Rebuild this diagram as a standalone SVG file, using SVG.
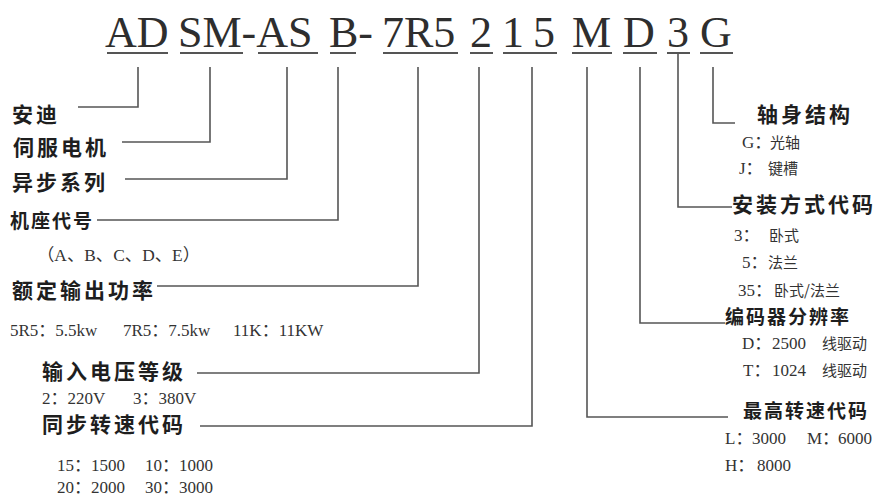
<svg xmlns="http://www.w3.org/2000/svg" width="878" height="499" viewBox="0 0 878 499">
<style>
.code{font-family:"Liberation Serif","Times New Roman",serif;font-size:44px;fill:#2e2e2e}
.ul{stroke:#555;stroke-width:2;fill:none}
.lbl{font-family:"Noto Sans CJK SC","Noto Sans",sans-serif;font-weight:bold;font-size:21px;fill:#1e1e1e;letter-spacing:3px}
.lbs{font-family:"Noto Sans CJK SC","Noto Sans",sans-serif;font-weight:bold;font-size:19px;fill:#1e1e1e;letter-spacing:2px}
.sm{font-family:"Liberation Serif","Noto Sans CJK SC",serif;font-size:17px;fill:#333}
.cj{font-family:"Noto Sans CJK SC",sans-serif;font-size:15px;fill:#333}
.conn path{stroke:#555;stroke-width:1.6;fill:none}
</style>
<rect width="878" height="499" fill="#fff"/>
<g id="code">
<g id="seg-AD"><text class="code" x="105" y="47">AD</text><line class="ul" x1="107" y1="53" x2="168" y2="53"/></g>
<g id="seg-SMAS"><text class="code" x="178" y="47">SM-AS</text><line class="ul" x1="180" y1="53" x2="243" y2="53"/><line class="ul" x1="258" y1="53" x2="318" y2="53"/></g>
<g id="seg-B"><text class="code" x="329" y="47">B-</text><line class="ul" x1="330" y1="53" x2="356" y2="53"/></g>
<g id="seg-7R5"><text class="code" x="382" y="47">7R5</text><line class="ul" x1="383" y1="53" x2="458" y2="53"/></g>
<g id="seg-2"><text class="code" x="470" y="47">2</text><line class="ul" x1="470" y1="53" x2="493" y2="53"/></g>
<g id="seg-15"><text class="code" x="502" y="47">1</text><text class="code" x="533" y="47">5</text><line class="ul" x1="503" y1="53" x2="557" y2="53"/></g>
<g id="seg-M"><text class="code" x="572" y="47">M</text><line class="ul" x1="572" y1="53" x2="612" y2="53"/></g>
<g id="seg-D"><text class="code" x="623" y="47">D</text><line class="ul" x1="623" y1="53" x2="657" y2="53"/></g>
<g id="seg-3"><text class="code" x="667" y="47">3</text><line class="ul" x1="667" y1="53" x2="690" y2="53"/></g>
<g id="seg-G"><text class="code" x="700" y="47">G</text><line class="ul" x1="700" y1="53" x2="733" y2="53"/></g>
</g>
<g class="conn" id="connectors">
<path d="M138,67 V107 H78"/>
<path d="M210,67 V142 H122"/>
<path d="M287,67 V179 H125"/>
<path d="M338,67 V220 H97"/>
<path d="M418,67 V286 H157"/>
<path d="M479,67 V373 H197"/>
<path d="M532,67 V426 H200"/>
<path d="M587,67 V417 H728"/>
<path d="M640,67 V323 H725"/>
<path d="M678,53 V207 H732"/>
<path d="M713,67 V123 H735"/>
</g>
<g id="n-andi"><text class="lbl" x="12" y="122">安迪</text></g>
<g id="n-servo"><text class="lbl" x="13" y="155">伺服电机</text></g>
<g id="n-async"><text class="lbl" x="12" y="190">异步系列</text></g>
<g id="n-frame"><text class="lbs" x="10" y="228" letter-spacing="3">机座代号</text><text class="sm" x="37" y="261" textLength="163" lengthAdjust="spacingAndGlyphs">（A、B、C、D、E）</text></g>
<g id="n-power"><text class="lbl" x="12" y="298">额定输出功率</text>
<text class="sm" y="336"><tspan x="10">5R5：5.5kw</tspan><tspan x="123">7R5：7.5kw</tspan><tspan x="233">11K：11KW</tspan></text></g>
<g id="n-voltage"><text class="lbl" x="42" y="379">输入电压等级</text>
<text class="sm" y="404"><tspan x="42">2：220V</tspan><tspan x="133">3：380V</tspan></text></g>
<g id="n-sync"><text class="lbl" x="42" y="432">同步转速代码</text>
<text class="sm" y="471"><tspan x="57">15：1500</tspan><tspan x="145">10：1000</tspan></text>
<text class="sm" y="493"><tspan x="57">20：2000</tspan><tspan x="145">30：3000</tspan></text></g>
<g id="n-shaft"><text class="lbl" x="757" y="122" letter-spacing="4">轴身结构</text>
<text class="sm" y="148"><tspan x="742">G：</tspan><tspan class="cj" x="770">光轴</tspan></text>
<text class="sm" y="174"><tspan x="739">J：</tspan><tspan class="cj" x="768">键槽</tspan></text></g>
<g id="n-mount"><text class="lbl" x="732" y="212">安装方式代码</text>
<text class="sm" y="241"><tspan x="734">3：</tspan><tspan class="cj" x="769">卧式</tspan></text>
<text class="sm" y="268"><tspan x="742">5：</tspan><tspan class="cj" x="768">法兰</tspan></text>
<text class="sm" y="296"><tspan x="738">35：</tspan><tspan class="cj" x="774">卧式/法兰</tspan></text></g>
<g id="n-encoder"><text class="lbs" x="725" y="324">编码器分辨率</text>
<text class="sm" y="349"><tspan x="742">D：</tspan><tspan x="772">2500</tspan><tspan class="cj" x="822">线驱动</tspan></text>
<text class="sm" y="376"><tspan x="743">T：</tspan><tspan x="772">1024</tspan><tspan class="cj" x="822">线驱动</tspan></text></g>
<g id="n-maxspeed"><text class="lbs" x="743" y="418">最高转速代码</text>
<text class="sm" y="444"><tspan x="725">L：</tspan><tspan x="752">3000</tspan><tspan x="807">M：</tspan><tspan x="838">6000</tspan></text>
<text class="sm" y="471"><tspan x="725">H：</tspan><tspan x="757">8000</tspan></text></g>
</svg>
